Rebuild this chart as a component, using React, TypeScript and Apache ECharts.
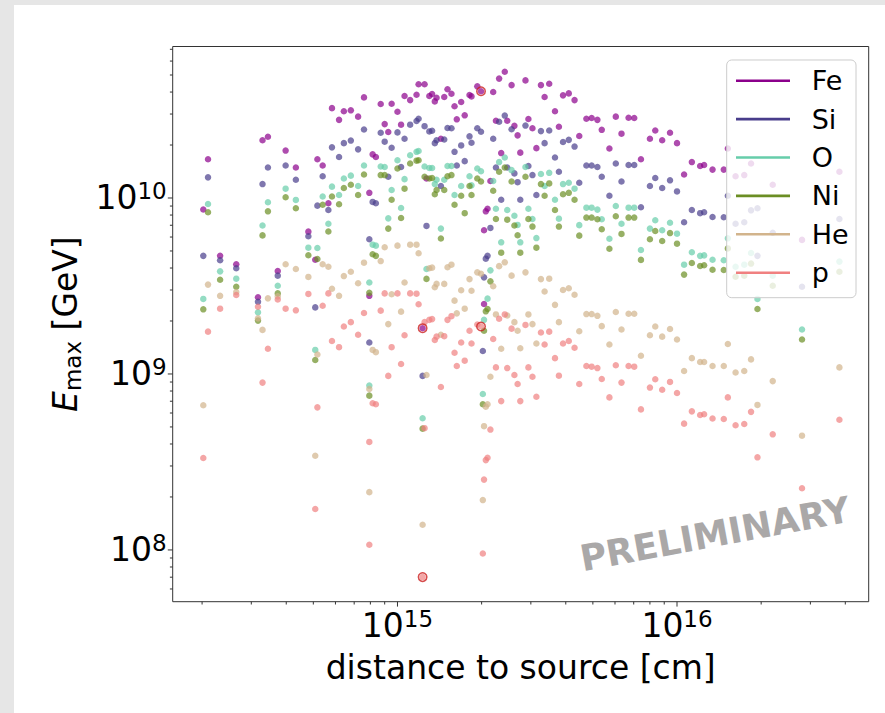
import React, { useEffect, useRef } from 'react';
import * as echarts from 'echarts';

const FONT = 'DejaVu Sans';
const X_MIN = 1.57e14;
const X_MAX = 4.85e16;
const Y_MIN = 5.08e7;
const Y_MAX = 7.26e10;

const SPECIES = ['Fe', 'Si', 'O', 'Ni', 'He', 'p'];
const COLORS = ['#8B008B', '#483D8B', '#66CDAA', '#6B8E23', '#D2B48C', '#F08080'];

const FE = [
  [2.02e14, 8.6e9], [2.10e14, 1.66e10], [2.32e14, 4.7e9], [2.65e14, 4.2e9], [3.17e14, 2.73e9], [3.29e14, 2.13e10],
  [3.44e14, 2.23e10], [3.73e14, 3.85e9], [3.98e14, 1.86e10], [4.33e14, 1.49e10], [4.80e14, 6.44e9], [5.08e14, 4.46e9],
  [5.17e14, 1.66e10], [5.40e14, 1.53e10], [5.66e14, 9.33e9], [5.83e14, 3.24e10], [6.18e14, 2.78e10], [6.43e14, 3.11e10],
  [6.81e14, 3.15e10], [7.23e14, 2.90e10], [7.59e14, 3.73e10], [8.15e14, 1.77e10], [8.37e14, 1.71e10], [7.93e14, 1.07e10],
  [7.93e14, 2.78e9], [8.71e14, 3.42e10], [9.00e14, 2.63e10], [9.27e14, 2.37e10], [9.53e14, 3.43e10], [1.00e15, 3.09e10],
  [1.03e15, 2.61e10], [1.06e15, 3.80e10], [1.11e15, 3.60e10], [1.17e15, 3.86e10], [1.19e15, 4.43e10], [1.25e15, 4.43e10],
  [1.30e15, 3.80e10], [1.33e15, 3.90e10], [1.36e15, 3.54e10], [1.38e15, 3.71e10], [1.47e15, 3.75e10], [1.51e15, 4.15e10],
  [1.56e15, 3.91e10], [1.60e15, 3.32e10], [1.69e15, 3.51e10], [1.74e15, 2.95e10], [1.63e15, 2.80e10], [1.81e15, 3.85e10],
  [1.84e15, 3.78e10], [1.93e15, 4.31e10], [1.99e15, 4.04e10], [2.20e15, 4.00e10], [2.31e15, 4.77e10], [2.42e15, 5.22e10],
  [2.56e15, 4.38e10], [2.87e15, 4.66e10], [3.26e15, 4.38e10], [3.49e15, 4.46e10], [3.36e15, 3.75e10], [3.91e15, 3.83e10],
  [4.10e15, 3.93e10], [4.30e15, 3.60e10], [3.66e15, 3.11e10], [2.25e15, 2.75e10], [2.47e15, 2.75e10], [2.62e15, 2.57e10],
  [2.69e15, 2.27e10], [2.94e15, 2.81e10], [3.04e15, 2.49e10], [3.78e15, 2.54e10], [4.47e15, 2.25e10], [3.14e15, 1.92e10],
  [2.75e15, 1.81e10], [2.35e15, 1.80e10], [4.74e15, 2.82e10], [4.95e15, 2.85e10], [5.19e15, 2.78e10], [5.38e15, 2.44e10],
  [5.73e15, 1.91e10], [6.04e15, 2.90e10], [6.33e15, 2.32e10], [6.71e15, 2.86e10], [7.03e15, 2.85e10], [7.43e15, 1.66e10],
  [1.43e15, 2.17e10], [1.27e15, 1.29e10], [2.15e15, 1.25e10], [2.10e15, 8.69e9], [2.07e15, 8.4e9], [2.04e15, 6.56e9],
  [8.36e15, 2.42e10], [8.00e15, 2.17e10], [8.85e15, 2.13e10], [9.44e15, 2.35e10], [1.00e16, 2.05e10], [1.13e16, 1.60e10],
  [1.21e16, 1.52e10], [1.25e16, 1.54e10], [1.34e16, 1.45e10], [1.47e16, 1.45e10], [1.06e16, 1.36e10], [1.52e16, 1.91e10],
  [1.62e16, 1.33e10], [1.74e16, 1.35e10], [1.84e16, 1.57e10], [2.20e16, 1.19e10], [3.81e16, 1.41e10], [2.80e16, 5.78e9],
  [1.23e15, 1.82e9], [2.04e15, 2.50e9],
];

const SI = [
  [2.10e14, 1.31e10], [2.02e14, 4.69e9], [2.32e14, 4.43e9], [2.65e14, 3.99e9], [3.17e14, 2.57e9], [3.29e14, 1.20e10],
  [3.44e14, 1.49e10], [3.73e14, 3.62e9], [3.98e14, 1.53e10], [4.33e14, 1.27e10], [4.80e14, 6.06e9], [5.08e14, 2.39e9],
  [5.17e14, 9.05e9], [5.40e14, 1.33e10], [5.66e14, 8.55e9], [5.83e14, 1.94e10], [6.18e14, 1.71e10], [6.43e14, 2.05e10],
  [6.81e14, 2.12e10], [7.23e14, 1.89e10], [7.59e14, 2.45e10], [8.15e14, 9.50e9], [8.37e14, 9.33e9], [7.93e14, 5.83e9],
  [8.71e14, 2.35e10], [9.00e14, 2.09e10], [9.27e14, 1.32e10], [9.53e14, 1.93e10], [1.00e15, 2.36e10], [1.03e15, 1.50e10],
  [1.06e15, 2.17e10], [1.11e15, 2.61e10], [1.17e15, 2.74e10], [1.19e15, 2.82e10], [1.25e15, 2.56e10], [1.30e15, 2.39e10],
  [1.33e15, 2.41e10], [1.36e15, 2.05e10], [1.38e15, 2.13e10], [1.47e15, 2.15e10], [1.51e15, 2.50e10], [1.56e15, 2.49e10],
  [1.60e15, 1.83e10], [1.69e15, 1.99e10], [1.74e15, 1.62e10], [1.63e15, 1.53e10], [1.81e15, 2.24e10], [1.84e15, 2.06e10],
  [1.93e15, 2.49e10], [1.99e15, 2.38e10], [2.20e15, 2.17e10], [2.31e15, 2.71e10], [2.42e15, 2.94e10], [2.56e15, 2.46e10],
  [2.87e15, 2.58e10], [3.26e15, 2.40e10], [3.49e15, 2.42e10], [3.36e15, 2.05e10], [3.91e15, 2.08e10], [4.10e15, 2.14e10],
  [4.30e15, 1.96e10], [3.66e15, 1.70e10], [2.25e15, 1.49e10], [2.47e15, 1.49e10], [2.62e15, 1.38e10], [2.69e15, 1.23e10],
  [2.94e15, 1.52e10], [3.04e15, 1.35e10], [3.14e15, 1.04e10], [4.47e15, 1.22e10], [4.74e15, 1.53e10], [4.95e15, 1.53e10],
  [5.19e15, 1.50e10], [5.38e15, 1.32e10], [5.73e15, 1.03e10], [6.04e15, 1.57e10], [6.33e15, 1.24e10], [6.71e15, 1.54e10],
  [7.03e15, 1.54e10], [2.35e15, 9.78e9], [2.75e15, 9.78e9], [1.27e15, 6.94e9], [1.43e15, 1.17e10], [2.15e15, 6.76e9],
  [3.78e15, 1.41e10], [7.43e15, 8.86e9], [8.36e15, 1.30e10], [8.00e15, 1.17e10], [8.85e15, 1.14e10], [9.44e15, 1.26e10],
  [1.00e16, 1.09e10], [1.13e16, 8.55e9], [1.21e16, 8.20e9], [1.25e16, 8.30e9], [1.34e16, 7.80e9], [1.47e16, 7.77e9],
  [1.06e16, 7.28e9], [1.52e16, 1.03e10], [1.62e16, 7.14e9], [1.74e16, 7.28e9], [1.84e16, 8.51e9], [1.94e16, 8.74e9],
  [2.20e16, 6.35e9], [3.81e16, 7.60e9], [1.94e16, 4.69e9], [2.80e16, 3.13e9], [7.93e14, 1.51e9], [2.10e15, 4.69e9],
  [2.07e15, 4.52e9], [2.04e15, 3.54e9], [2.02e15, 1.35e9], [1.23e15, 9.75e8],
];

const O = [
  [2.10e14, 9.25e9], [2.02e14, 2.67e9], [2.32e14, 3.83e9], [2.65e14, 3.48e9], [3.17e14, 2.24e9], [3.29e14, 6.98e9],
  [3.44e14, 9.46e9], [3.73e14, 3.17e9], [3.98e14, 1.13e10], [4.33e14, 9.75e9], [4.80e14, 5.22e9], [5.17e14, 5.20e9],
  [5.08e14, 1.37e9], [5.40e14, 1.02e10], [5.66e14, 7.14e9], [5.83e14, 1.16e10], [6.18e14, 1.04e10], [6.43e14, 1.29e10],
  [6.81e14, 1.34e10], [7.23e14, 1.17e10], [7.59e14, 1.53e10], [8.15e14, 5.43e9], [8.37e14, 5.36e9], [7.93e14, 3.31e9],
  [7.93e14, 8.59e8], [8.71e14, 1.51e10], [9.00e14, 1.50e10], [9.27e14, 7.66e9], [9.53e14, 1.11e10], [1.00e15, 1.64e10],
  [1.03e15, 8.77e9], [1.06e15, 1.28e10], [1.11e15, 1.75e10], [1.17e15, 1.83e10], [1.19e15, 1.85e10], [1.25e15, 1.51e10],
  [1.30e15, 1.48e10], [1.33e15, 1.48e10], [1.36e15, 1.20e10], [1.38e15, 1.27e10], [1.47e15, 1.27e10], [1.51e15, 1.52e10],
  [1.56e15, 1.52e10], [1.60e15, 1.04e10], [1.69e15, 1.17e10], [1.81e15, 1.33e10], [1.84e15, 1.18e10], [1.93e15, 1.47e10],
  [1.99e15, 1.42e10], [2.20e15, 1.25e10], [2.31e15, 1.60e10], [2.42e15, 1.70e10], [2.56e15, 1.44e10], [2.87e15, 1.50e10],
  [3.26e15, 1.37e10], [3.49e15, 1.39e10], [3.36e15, 1.17e10], [3.91e15, 1.20e10], [4.10e15, 1.22e10], [4.30e15, 1.13e10],
  [3.66e15, 9.78e9], [2.25e15, 8.69e9], [2.47e15, 8.55e9], [2.62e15, 7.93e9], [2.69e15, 7.03e9], [2.94e15, 8.69e9],
  [3.04e15, 7.60e9], [3.78e15, 7.63e9], [4.47e15, 7.01e9], [4.74e15, 8.81e9], [4.95e15, 8.81e9], [5.19e15, 8.59e9],
  [5.38e15, 7.57e9], [6.04e15, 9.01e9], [6.33e15, 7.14e9], [6.71e15, 8.81e9], [7.03e15, 8.81e9], [5.73e15, 5.87e9],
  [1.43e15, 6.70e9], [2.35e15, 5.60e9], [2.75e15, 5.60e9], [3.14e15, 5.92e9], [1.27e15, 3.95e9], [2.15e15, 3.88e9],
  [2.10e15, 2.68e9], [2.04e15, 2.03e9], [2.02e15, 7.70e8], [1.23e15, 5.60e8], [7.43e15, 5.06e9], [8.36e15, 7.47e9],
  [8.00e15, 6.70e9], [8.85e15, 6.56e9], [9.44e15, 7.23e9], [1.00e16, 6.27e9], [1.13e16, 4.92e9], [1.21e16, 4.69e9],
  [1.25e16, 4.72e9], [1.34e16, 4.46e9], [1.47e16, 4.43e9], [1.06e16, 4.18e9], [1.52e16, 5.90e9], [1.62e16, 4.07e9],
  [1.74e16, 4.18e9], [1.84e16, 4.87e9], [2.20e16, 3.62e9], [3.81e16, 4.35e9], [1.94e16, 2.67e9], [2.80e16, 1.79e9],
];

const NI = [
  [2.10e14, 8.30e9], [2.02e14, 2.33e9], [2.32e14, 3.43e9], [2.65e14, 3.13e9], [3.17e14, 2.01e9], [3.29e14, 6.13e9],
  [3.44e14, 8.40e9], [3.73e14, 2.87e9], [3.98e14, 1.01e10], [4.33e14, 8.74e9], [4.80e14, 4.73e9], [5.17e14, 4.50e9],
  [5.08e14, 1.20e9], [5.40e14, 9.16e9], [5.66e14, 6.45e9], [5.83e14, 1.02e10], [6.18e14, 9.22e9], [6.43e14, 1.14e10],
  [6.81e14, 1.19e10], [7.23e14, 1.04e10], [7.59e14, 1.36e10], [8.15e14, 4.79e9], [8.37e14, 4.69e9], [7.93e14, 2.89e9],
  [7.93e14, 7.53e8], [8.71e14, 1.35e10], [9.00e14, 1.35e10], [9.27e14, 6.70e9], [9.53e14, 9.78e9], [1.00e15, 1.47e10],
  [1.03e15, 7.70e9], [1.06e15, 1.13e10], [1.11e15, 1.57e10], [1.17e15, 1.63e10], [1.19e15, 1.64e10], [1.25e15, 1.32e10],
  [1.30e15, 1.29e10], [1.33e15, 1.30e10], [1.36e15, 1.05e10], [1.38e15, 1.11e10], [1.47e15, 1.11e10], [1.51e15, 1.33e10],
  [1.56e15, 1.35e10], [1.60e15, 9.16e9], [1.69e15, 1.03e10], [1.74e15, 8.20e9], [1.81e15, 1.17e10], [1.84e15, 1.04e10],
  [1.93e15, 1.29e10], [1.99e15, 1.24e10], [2.20e15, 1.10e10], [2.31e15, 1.41e10], [2.42e15, 1.49e10], [2.56e15, 1.24e10],
  [2.87e15, 1.32e10], [3.26e15, 1.20e10], [3.49e15, 1.21e10], [3.36e15, 1.03e10], [3.91e15, 1.05e10], [4.10e15, 1.07e10],
  [4.30e15, 9.78e9], [3.66e15, 8.55e9], [2.25e15, 7.60e9], [2.47e15, 7.53e9], [2.62e15, 6.98e9], [2.69e15, 6.14e9],
  [2.94e15, 7.60e9], [3.04e15, 6.88e9], [3.78e15, 6.88e9], [4.47e15, 6.11e9], [4.74e15, 7.74e9], [4.95e15, 7.74e9],
  [5.19e15, 7.57e9], [5.38e15, 6.64e9], [6.04e15, 7.87e9], [6.33e15, 6.25e9], [6.71e15, 7.74e9], [7.03e15, 7.74e9],
  [5.73e15, 5.15e9], [1.43e15, 5.89e9], [2.35e15, 4.89e9], [2.75e15, 4.89e9], [3.14e15, 5.22e9], [1.27e15, 3.47e9],
  [2.15e15, 3.36e9], [2.07e15, 2.27e9], [2.10e15, 2.34e9], [2.04e15, 1.76e9], [2.02e15, 6.73e8], [1.23e15, 4.89e8],
  [7.43e15, 4.45e9], [8.36e15, 6.49e9], [8.00e15, 5.83e9], [8.85e15, 5.70e9], [9.44e15, 6.32e9], [1.00e16, 5.50e9],
  [1.13e16, 4.27e9], [1.21e16, 4.11e9], [1.25e16, 4.15e9], [1.34e16, 3.91e9], [1.47e16, 3.90e9], [1.06e16, 3.67e9],
  [1.52e16, 5.17e9], [1.62e16, 3.57e9], [1.74e16, 3.62e9], [1.84e16, 4.24e9], [2.20e16, 3.17e9], [3.81e16, 3.81e9],
  [1.94e16, 2.34e9], [2.80e16, 1.57e9],
];

const HE = [
  [2.10e14, 3.22e9], [2.02e14, 6.64e8], [2.32e14, 2.78e9], [2.65e14, 2.92e9], [3.17e14, 2.07e9], [3.29e14, 1.78e9],
  [3.44e14, 2.69e9], [3.73e14, 2.76e9], [3.98e14, 4.20e9], [4.33e14, 3.95e9], [4.80e14, 3.56e9], [5.17e14, 1.29e9],
  [5.40e14, 4.20e9], [5.66e14, 4.07e9], [5.83e14, 3.05e9], [6.18e14, 2.78e9], [6.43e14, 3.60e9], [6.81e14, 3.81e9],
  [7.23e14, 3.28e9], [7.59e14, 4.29e9], [8.71e14, 4.38e9], [9.00e14, 5.25e9], [1.00e15, 5.36e9], [1.11e15, 5.43e9],
  [1.17e15, 5.43e9], [1.19e15, 4.85e9], [9.53e14, 2.84e9], [1.06e15, 3.31e9], [1.03e15, 2.26e9], [9.27e14, 1.92e9],
  [8.15e14, 1.37e9], [8.37e14, 1.33e9], [7.93e14, 8.21e8], [1.30e15, 3.99e9], [1.33e15, 4.02e9], [1.51e15, 4.04e9],
  [1.56e15, 4.18e9], [1.93e15, 3.78e9], [1.99e15, 3.71e9], [2.31e15, 4.10e9], [2.42e15, 4.31e9], [2.56e15, 3.62e9],
  [2.87e15, 3.78e9], [3.26e15, 3.46e9], [3.49e15, 3.48e9], [3.36e15, 2.94e9], [3.91e15, 3.00e9], [4.10e15, 3.07e9],
  [4.30e15, 2.82e9], [3.66e15, 2.47e9], [1.36e15, 3.11e9], [1.38e15, 3.25e9], [1.47e15, 3.25e9], [1.69e15, 2.99e9],
  [1.84e15, 2.97e9], [1.81e15, 3.46e9], [1.60e15, 2.61e9], [1.74e15, 2.35e9], [1.63e15, 2.21e9], [2.20e15, 3.15e9],
  [2.25e15, 2.18e9], [2.47e15, 2.15e9], [2.62e15, 1.97e9], [2.69e15, 1.76e9], [2.94e15, 2.18e9], [3.04e15, 1.92e9],
  [3.78e15, 1.97e9], [4.47e15, 1.75e9], [4.74e15, 2.19e9], [4.95e15, 2.19e9], [5.19e15, 2.14e9], [5.38e15, 1.87e9],
  [6.04e15, 2.25e9], [6.33e15, 1.79e9], [6.71e15, 2.20e9], [7.03e15, 2.20e9], [5.73e15, 1.47e9], [7.43e15, 1.27e9],
  [3.14e15, 1.49e9], [2.35e15, 1.39e9], [2.75e15, 1.40e9], [2.15e15, 9.65e8], [2.10e15, 6.73e8], [2.07e15, 6.52e8],
  [1.27e15, 9.87e8], [1.43e15, 1.67e9], [8.36e15, 1.86e9], [8.00e15, 1.66e9], [8.85e15, 1.63e9], [9.44e15, 1.80e9],
  [1.00e16, 1.57e9], [1.13e16, 1.23e9], [1.21e16, 1.17e9], [1.25e16, 1.17e9], [1.34e16, 1.11e9], [1.47e16, 1.11e9],
  [1.06e16, 1.04e9], [1.52e16, 1.48e9], [1.62e16, 1.02e9], [1.74e16, 1.04e9], [1.84e16, 1.21e9], [2.20e16, 9.11e8],
  [3.81e16, 1.09e9], [1.94e16, 6.67e8], [2.80e16, 4.46e8], [1.23e15, 1.39e8], [2.04e15, 5.05e8], [2.02e15, 1.92e8],
  [7.93e14, 2.13e8], [5.08e14, 3.43e8],
];

const P = [
  [2.10e14, 1.74e9], [2.02e14, 3.33e8], [2.32e14, 2.35e9], [2.65e14, 2.81e9], [3.17e14, 2.41e9], [3.29e14, 8.93e8],
  [3.44e14, 1.39e9], [3.73e14, 2.65e9], [3.98e14, 2.35e9], [4.33e14, 2.30e9], [4.80e14, 2.85e9], [5.17e14, 6.46e8],
  [5.40e14, 2.44e9], [5.66e14, 2.87e9], [5.83e14, 1.54e9], [6.18e14, 1.42e9], [6.43e14, 1.86e9], [6.81e14, 1.97e9],
  [7.23e14, 1.67e9], [7.59e14, 2.22e9], [9.00e14, 2.87e9], [1.00e15, 2.87e9], [1.11e15, 2.87e9], [1.17e15, 2.86e9],
  [1.19e15, 2.49e9], [8.71e14, 2.29e9], [1.06e15, 1.66e9], [9.53e14, 1.42e9], [1.03e15, 1.14e9], [9.27e14, 9.75e8],
  [8.15e14, 6.82e8], [8.37e14, 6.73e8], [7.93e14, 4.11e8], [7.93e14, 1.07e8], [5.08e14, 1.71e8], [1.25e15, 1.97e9],
  [1.30e15, 2.03e9], [1.33e15, 2.05e9], [1.51e15, 2.03e9], [1.56e15, 2.13e9], [1.36e15, 1.56e9], [1.38e15, 1.63e9],
  [1.47e15, 1.64e9], [1.60e15, 1.32e9], [1.69e15, 1.51e9], [1.84e15, 1.49e9], [1.81e15, 1.76e9], [1.74e15, 1.19e9],
  [1.63e15, 1.11e9], [2.20e15, 1.58e9], [1.93e15, 1.91e9], [2.31e15, 2.06e9], [2.42e15, 2.18e9], [2.56e15, 1.81e9],
  [2.87e15, 1.90e9], [3.26e15, 1.72e9], [3.49e15, 1.74e9], [3.36e15, 1.47e9], [3.91e15, 1.49e9], [4.10e15, 1.54e9],
  [4.30e15, 1.41e9], [3.66e15, 1.23e9], [4.74e15, 1.11e9], [4.95e15, 1.10e9], [5.19e15, 1.08e9], [6.04e15, 1.12e9],
  [6.71e15, 1.11e9], [7.03e15, 1.10e9], [5.38e15, 9.37e8], [6.33e15, 8.93e8], [4.47e15, 8.77e8], [5.73e15, 7.36e8],
  [3.78e15, 9.78e8], [2.25e15, 1.09e9], [2.47e15, 1.08e9], [2.94e15, 1.09e9], [2.62e15, 9.87e8], [3.04e15, 9.65e8],
  [2.69e15, 8.77e8], [3.14e15, 7.42e8], [2.35e15, 7.01e8], [2.75e15, 7.01e8], [1.43e15, 8.43e8], [1.25e15, 4.92e8],
  [2.15e15, 4.83e8], [2.10e15, 3.34e8], [2.07e15, 3.24e8], [2.04e15, 2.51e8], [2.02e15, 9.54e7], [7.43e15, 6.29e8],
  [8.36e15, 9.33e8], [8.00e15, 8.37e8], [8.85e15, 8.14e8], [9.44e15, 9.01e8], [1.00e16, 7.80e8], [1.13e16, 6.13e8],
  [1.21e16, 5.85e8], [1.25e16, 5.90e8], [1.34e16, 5.58e8], [1.47e16, 5.55e8], [1.06e16, 5.22e8], [1.52e16, 7.36e8],
  [1.62e16, 5.11e8], [1.74e16, 5.20e8], [1.84e16, 6.09e8], [2.20e16, 4.54e8], [3.81e16, 5.49e8], [1.94e16, 3.36e8],
  [2.80e16, 2.24e8], [1.23e15, 7.01e7], [1.99e15, 1.86e9],
];

const HIGHLIGHT = [[1.99e15, 4.04e10], [1.23e15, 1.82e9], [1.99e15, 1.86e9], [1.23e15, 7.01e7]];

const SERIES_DATA = [FE, SI, O, NI, HE, P];

const X_MAJOR_TICKS = [1e15, 1e16];
const X_MINOR_TICKS = [2e14, 3e14, 4e14, 5e14, 6e14, 7e14, 8e14, 9e14, 2e15, 3e15, 4e15, 5e15, 6e15, 7e15, 8e15, 9e15, 2e16, 3e16, 4e16];
const Y_MAJOR_TICKS = [1e8, 1e9, 1e10];
const Y_MINOR_TICKS = [6e7, 7e7, 8e7, 9e7, 2e8, 3e8, 4e8, 5e8, 6e8, 7e8, 8e8, 9e8, 2e9, 3e9, 4e9, 5e9, 6e9, 7e9, 8e9, 9e9, 2e10, 3e10, 4e10, 5e10, 6e10, 7e10];

const MAJOR_LEN = 4.9;
const MINOR_LEN = 2.8;
const AXIS_COLOR = '#333';

const powLabel = (v: number) => {
  const e = Math.log10(v);
  const r = Math.round(e);
  return Math.abs(e - r) < 1e-6 ? `{b|10}{e|${r}}` : '';
};

const tickRich = {
  b: { fontSize: 33, fontFamily: FONT, color: '#000', lineHeight: 36 },
  e: { fontSize: 23, fontFamily: FONT, color: '#000', lineHeight: 20, verticalAlign: 'top' },
};

function buildOption() {
  const xTickData = [
    ...X_MAJOR_TICKS.map((v) => [v, Y_MIN, MAJOR_LEN]),
    ...X_MINOR_TICKS.map((v) => [v, Y_MIN, MINOR_LEN]),
  ];
  const yTickData = [
    ...Y_MAJOR_TICKS.map((v) => [X_MIN, v, MAJOR_LEN]),
    ...Y_MINOR_TICKS.map((v) => [X_MIN, v, MINOR_LEN]),
  ];

  const scatterSeries = SPECIES.map((name, i) => ({
    type: 'scatter',
    name,
    data: SERIES_DATA[i],
    symbol: 'circle',
    symbolSize: 6.5,
    itemStyle: { color: COLORS[i], opacity: 0.7 },
    emphasis: { disabled: true },
    z: 2,
  }));

  return {
    animation: false,
    textStyle: { fontFamily: FONT },
    grid: {
      left: 172.7,
      top: 46.5,
      width: 696,
      height: 555.2,
      show: true,
      borderColor: AXIS_COLOR,
      borderWidth: 1,
      backgroundColor: 'transparent',
      containLabel: false,
      outerBoundsMode: 'none',
    },
    xAxis: {
      type: 'log',
      logBase: 10,
      min: X_MIN,
      max: X_MAX,
      axisLine: { show: false },
      axisTick: { show: false },
      splitLine: { show: false },
      minorTick: { show: false },
      axisLabel: { formatter: powLabel, rich: tickRich, margin: 6, hideOverlap: false },
      name: 'distance to source [cm]',
      nameLocation: 'middle',
      nameGap: 32,
      nameTextStyle: { fontSize: 33, fontFamily: FONT, color: '#000', lineHeight: 40 },
    },
    yAxis: {
      type: 'log',
      logBase: 10,
      min: Y_MIN,
      max: Y_MAX,
      axisLine: { show: false },
      axisTick: { show: false },
      splitLine: { show: false },
      minorTick: { show: false },
      axisLabel: { formatter: powLabel, rich: tickRich, margin: 6, hideOverlap: false },
      name: '{i|E}{s|max}{n| [GeV]}',
      nameLocation: 'middle',
      nameRotate: 90,
      nameGap: 83,
      nameTextStyle: {
        color: '#000',
        rich: {
          i: { fontSize: 33, fontFamily: FONT, fontStyle: 'italic', color: '#000', lineHeight: 40 },
          s: { fontSize: 23, fontFamily: FONT, color: '#000', lineHeight: 23, padding: [16, 0, 0, 0] },
          n: { fontSize: 33, fontFamily: FONT, color: '#000', lineHeight: 40 },
        },
      },
    },
    legend: {
      data: SPECIES.map((n, i) => ({ name: n, itemStyle: { color: COLORS[i], opacity: 1 } })),
      orient: 'vertical',
      left: 726.7,
      top: 60,
      icon: 'rect',
      itemWidth: 54,
      itemHeight: 2.6,
      itemGap: 8.4,
      padding: [5.7, 7.4, 10, 9.3],
      backgroundColor: 'rgba(255,255,255,0.8)',
      borderColor: '#cccccc',
      borderWidth: 1,
      borderRadius: 5,
      selectedMode: false,
      textStyle: { fontSize: 27, fontFamily: FONT, color: '#000', lineHeight: 30, padding: [0, 0, 0, 16.7] },
      z: 10,
    },
    graphic: [
      {
        type: 'text',
        x: 715,
        y: 534,
        rotation: 0.183,
        z: 100,
        silent: true,
        style: {
          text: 'PRELIMINARY',
          font: `bold 36px "${FONT}"`,
          fill: '#aaa8a8',
          align: 'center',
          verticalAlign: 'middle',
        },
      },
    ],
    series: [
      ...scatterSeries,
      {
        type: 'scatter',
        name: 'highlight',
        data: HIGHLIGHT,
        symbol: 'circle',
        symbolSize: 8.5,
        itemStyle: { color: 'rgba(0,0,0,0)', borderColor: '#cc2020', borderWidth: 1.5 },
        emphasis: { disabled: true },
        z: 3,
      },
      {
        type: 'custom',
        name: '_xticks',
        silent: true,
        clip: false,
        data: xTickData,
        renderItem: (_params: any, api: any) => {
          const p = api.coord([api.value(0), api.value(1)]);
          const len = api.value(2);
          return {
            type: 'line',
            shape: { x1: p[0], y1: p[1], x2: p[0], y2: p[1] + len },
            style: { stroke: AXIS_COLOR, lineWidth: 1 },
          };
        },
        z: 4,
      },
      {
        type: 'custom',
        name: '_yticks',
        silent: true,
        clip: false,
        data: yTickData,
        renderItem: (_params: any, api: any) => {
          const p = api.coord([api.value(0), api.value(1)]);
          const len = api.value(2);
          return {
            type: 'line',
            shape: { x1: p[0], y1: p[1], x2: p[0] - len, y2: p[1] },
            style: { stroke: AXIS_COLOR, lineWidth: 1 },
          };
        },
        z: 4,
      },
    ],
  };
}

export default function App() {
  const ref = useRef<HTMLDivElement>(null);
  useEffect(() => {
    if (!ref.current) return;
    const chart = echarts.init(ref.current, undefined, { renderer: 'svg' });
    chart.setOption(buildOption() as any);
    return () => chart.dispose();
  }, []);
  return (
    <div style={{ position: 'fixed', left: 0, top: 0, width: 885, height: 713, background: '#e6e6e6', overflow: 'hidden' }}>
      <div style={{ position: 'absolute', left: 14, top: 5, right: 0, bottom: 0, background: '#ffffff' }} />
      <div ref={ref} style={{ position: 'absolute', left: 0, top: 0, width: 885, height: 713 }} />
    </div>
  );
}
